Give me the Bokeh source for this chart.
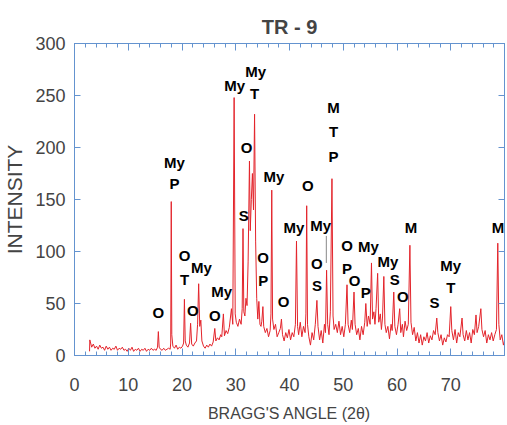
from bokeh.plotting import figure
from bokeh.models import Range1d, LinearAxis, SingleIntervalTicker, ColumnDataSource, CustomJSTickFormatter, Label
from bokeh.core.properties import value
from bokeh.embed import file_html
from bokeh.resources import INLINE

# ---- data ----
title_text = "TR - 9"
x_label = "BRAGG'S ANGLE (2θ)"
y_label = "INTENSITY"
x_last_tick = 80

scan_low = [
    (2.8, 4), (2.85, 15), (3.0, 12), (3.2, 8), (3.5, 11), (3.8, 7), (4.1, 9), (4.4, 6),
    (4.7, 10), (5.0, 7), (5.3, 8), (5.6, 5), (5.9, 9), (6.2, 6), (6.5, 8), (6.8, 5),
    (7.1, 7), (7.4, 6), (7.7, 9), (8.0, 5), (8.3, 7), (8.6, 6), (8.9, 8), (9.2, 5),
    (9.5, 6), (9.8, 4), (10.1, 7), (10.4, 5), (10.7, 8), (11.0, 4), (11.3, 6), (11.6, 5),
    (11.9, 7), (12.2, 4), (12.5, 6), (12.8, 5), (13.1, 7), (13.4, 4), (13.7, 6), (14.0, 5),
    (14.3, 7), (14.6, 5), (14.9, 6), (15.2, 5), (15.45, 8), (15.6, 23), (15.75, 8), (16.0, 6),
    (16.3, 5), (16.6, 7), (16.9, 5), (17.2, 6), (17.5, 7), (17.8, 6), (17.9, 12), (18.0, 148),
    (18.1, 20), (18.3, 9), (18.6, 7), (18.9, 10), (19.2, 6), (19.5, 8), (19.8, 7), (20.1, 9),
    (20.3, 12), (20.45, 54), (20.6, 14), (20.8, 10), (21.1, 8), (21.4, 12), (21.6, 31), (21.8, 11),
    (22.1, 9), (22.4, 12), (22.7, 14), (22.9, 30), (23.1, 69), (23.3, 28), (23.5, 34), (23.7, 14),
    (24.0, 9), (24.3, 7), (24.6, 10), (24.9, 8), (25.2, 11), (25.5, 9), (25.8, 13),
]

scan_mid = [
    (26.1, 26), (26.3, 14), (26.6, 17), (26.9, 15), (27.2, 20), (27.4, 18), (27.7, 40), (27.9, 19),
    (28.2, 24), (28.5, 21), (28.8, 27), (29.2, 45), (29.45, 30), (29.7, 248), (29.9, 40), (30.1, 32),
    (30.4, 28), (30.7, 35), (31.0, 30), (31.2, 45), (31.35, 122), (31.5, 42), (31.7, 38), (31.9, 55),
    (32.1, 48), (32.3, 90), (32.55, 187), (32.7, 120), (32.9, 150), (33.1, 175), (33.3, 140), (33.5, 232),
    (33.7, 110), (33.9, 55), (34.1, 35), (34.3, 52), (34.5, 30), (34.7, 28), (34.85, 33), (35.05, 47),
    (35.2, 28), (35.5, 22), (35.8, 26), (36.1, 18), (36.4, 24), (36.55, 40), (36.7, 159), (36.85, 35),
    (37.1, 25), (37.4, 30), (37.7, 18), (38.0, 22), (38.3, 26), (38.5, 35), (38.7, 20), (39.0, 14),
    (39.3, 22), (39.6, 17), (39.9, 25), (40.2, 15), (40.5, 22), (40.8, 18), (41.1, 30), (41.3, 110),
    (41.5, 28), (41.7, 20), (42.0, 32), (42.3, 18), (42.6, 28), (42.9, 22), (43.05, 40), (43.2, 144),
    (43.35, 30), (43.6, 18), (43.9, 10), (44.2, 22), (44.5, 15), (44.8, 30), (45.1, 53), (45.3, 28),
    (45.6, 15), (45.9, 24), (46.2, 12), (46.5, 30), (46.7, 22), (46.9, 82), (47.1, 30), (47.35, 20),
]

scan_high = [
    (47.6, 42), (47.9, 170), (48.1, 38), (48.3, 25), (48.6, 30), (48.9, 22), (49.2, 33), (49.5, 20),
    (49.8, 28), (50.1, 18), (50.4, 30), (50.7, 68), (50.9, 30), (51.2, 22), (51.5, 34), (51.7, 25),
    (52.0, 61), (52.2, 30), (52.5, 20), (52.8, 26), (53.1, 15), (53.4, 28), (53.7, 20), (54.0, 32),
    (54.2, 50), (54.45, 28), (54.7, 38), (55.0, 30), (55.25, 89), (55.45, 35), (55.7, 42), (55.9, 30),
    (56.1, 45), (56.4, 79), (56.6, 32), (56.9, 40), (57.1, 25), (57.3, 36), (57.55, 76), (57.75, 30),
    (58.0, 22), (58.3, 28), (58.6, 16), (58.9, 30), (59.1, 24), (59.4, 61), (59.6, 28), (59.9, 20),
    (60.2, 30), (60.5, 45), (60.7, 22), (61.0, 30), (61.2, 18), (61.5, 33), (61.8, 24), (62.1, 30),
    (62.4, 106), (62.6, 32), (62.9, 20), (63.2, 27), (63.5, 14), (63.8, 22), (64.1, 12), (64.4, 20),
    (64.7, 10), (65.0, 18), (65.3, 14), (65.6, 22), (65.9, 12), (66.2, 19), (66.5, 15), (66.8, 24),
    (67.1, 20), (67.4, 36), (67.6, 22), (67.9, 14), (68.2, 20), (68.5, 10), (68.8, 17), (69.1, 13),
    (69.4, 20), (69.7, 18), (70.0, 47), (70.2, 24), (70.5, 15), (70.8, 25), (71.1, 12), (71.4, 22),
    (71.7, 18), (72.1, 36), (72.3, 20), (72.6, 14), (72.9, 24), (73.2, 15), (73.5, 22), (73.8, 12),
    (74.1, 25), (74.4, 20), (74.7, 39), (74.9, 22), (75.2, 28), (75.6, 45), (75.8, 25), (76.1, 18),
    (76.4, 24), (76.7, 12), (77.0, 20), (77.3, 15), (77.6, 22), (77.9, 14), (78.2, 20), (78.5, 25),
    (78.75, 108), (78.95, 30), (79.2, 15), (79.5, 20), (79.8, 10), (80.0, 14),
]

# phase labels: (text, 2theta, intensity position)
peak_labels = [
    ("O", 15.6, 41),
    ("My", 18.6, 186), ("P", 18.6, 165),
    ("O", 20.5, 96), ("T", 20.5, 73),
    ("O", 22.0, 43),
    ("My", 23.6, 85),
    ("O", 26.1, 38),
    ("My", 27.4, 62),
    ("My", 29.8, 260),
    ("My", 33.7, 273), ("T", 33.5, 252),
    ("O", 32.0, 200),
    ("S", 31.5, 135),
    ("My", 37.1, 172),
    ("O", 35.1, 94), ("P", 35.1, 72),
    ("O", 38.9, 52),
    ("My", 40.8, 123),
    ("O", 43.4, 163),
    ("My", 45.8, 125),
    ("O", 45.1, 88), ("S", 45.1, 67),
    ("M", 48.2, 238), ("T", 48.2, 215), ("P", 48.2, 191),
    ("O", 50.7, 106), ("P", 50.7, 84),
    ("O", 52.1, 72),
    ("P", 54.2, 61),
    ("My", 54.7, 105),
    ("My", 58.3, 90),
    ("S", 59.6, 73),
    ("O", 61.1, 57),
    ("M", 62.6, 123),
    ("S", 67.0, 51),
    ("My", 70.0, 87), ("T", 70.0, 65),
    ("M", 78.8, 123),
]

# leader line under the "My" label at ~46.9
leader_x = [46.85, 46.85]
leader_y = [115, 89]

# ---- styles ----
RED = "#e3242b"
BLUE = "#6493cf"
SANS = "Liberation Sans"

scan = scan_low + scan_mid + scan_high
two_theta = [a for a, _ in scan]
intensity = [b for _, b in scan]

p = figure(width=507, height=424, x_range=Range1d(0, 80), y_range=Range1d(0, 300),
           output_backend="svg", toolbar_location=None,
           min_border_left=70, min_border_right=3, min_border_top=43, min_border_bottom=66)

p.title.text = title_text
p.title.align = "center"
p.title.text_font = SANS
p.title.text_font_size = "20px"
p.title.text_font_style = "bold"
p.title.standoff = 12

p.grid.visible = False
p.outline_line_color = BLUE
p.background_fill_color = "white"
p.border_fill_color = "white"

xt = SingleIntervalTicker(interval=10, num_minor_ticks=5)
yt = SingleIntervalTicker(interval=50, num_minor_ticks=0)

for ax in p.xaxis:
    ax.ticker = xt
    ax.axis_label = x_label
    ax.axis_label_text_font = SANS
    ax.axis_label_text_font_size = "16px"
    ax.axis_label_text_font_style = "normal"
    ax.axis_label_standoff = 11
    ax.major_label_text_font = SANS
    ax.major_label_text_font_size = "18px"
    ax.major_label_standoff = 22
    ax.major_label_overrides = {x_last_tick: ""}
    ax.major_tick_in = 7
    ax.major_tick_out = 0
    ax.minor_tick_in = 4
    ax.minor_tick_out = 0
    ax.axis_line_color = BLUE
    ax.major_tick_line_color = BLUE
    ax.minor_tick_line_color = BLUE

for ax in p.yaxis:
    ax.ticker = yt
    ax.axis_label = y_label
    ax.axis_label_text_font = SANS
    ax.axis_label_text_font_size = "21px"
    ax.axis_label_text_font_style = "normal"
    ax.axis_label_standoff = 6
    ax.major_label_text_font = SANS
    ax.major_label_text_font_size = "18px"
    ax.major_label_standoff = 9
    ax.major_tick_in = 6
    ax.major_tick_out = 0
    ax.minor_tick_line_color = None
    ax.axis_line_color = BLUE
    ax.major_tick_line_color = BLUE

blank = CustomJSTickFormatter(code="return ''")

top = LinearAxis(ticker=SingleIntervalTicker(interval=10, num_minor_ticks=5), formatter=blank,
                 major_label_text_font_size="1px", major_label_standoff=0, axis_label_standoff=0,
                 major_tick_in=7, major_tick_out=0, minor_tick_in=4, minor_tick_out=0,
                 axis_line_color=BLUE, major_tick_line_color=BLUE, minor_tick_line_color=BLUE)
p.add_layout(top, "above")

right = LinearAxis(ticker=SingleIntervalTicker(interval=50, num_minor_ticks=0), formatter=blank,
                   major_label_text_font_size="1px", major_label_standoff=0, axis_label_standoff=0,
                   major_tick_in=6, major_tick_out=0, minor_tick_line_color=None,
                   axis_line_color=BLUE, major_tick_line_color=BLUE)
p.add_layout(right, "right")

# the last x tick label, which runs off the right edge in the original
p.add_layout(Label(x=x_last_tick, y=-29, text=str(x_last_tick), text_align="center",
                   text_baseline="middle", text_font=SANS, text_font_size="18px"))

p.line(two_theta, intensity, line_color=RED, line_width=1)
p.line(leader_x, leader_y, line_color="#888888", line_width=1)

src = ColumnDataSource(dict(text=[t for t, _, _ in peak_labels],
                            x=[a for _, a, _ in peak_labels],
                            y=[b for _, _, b in peak_labels]))
p.text(x="x", y="y", text="text", source=src, text_font=value(SANS),
       text_font_size="15px", text_font_style="bold", text_color="black",
       text_align="center", text_baseline="middle")

open("out.html", "w").write(file_html(p, INLINE))
